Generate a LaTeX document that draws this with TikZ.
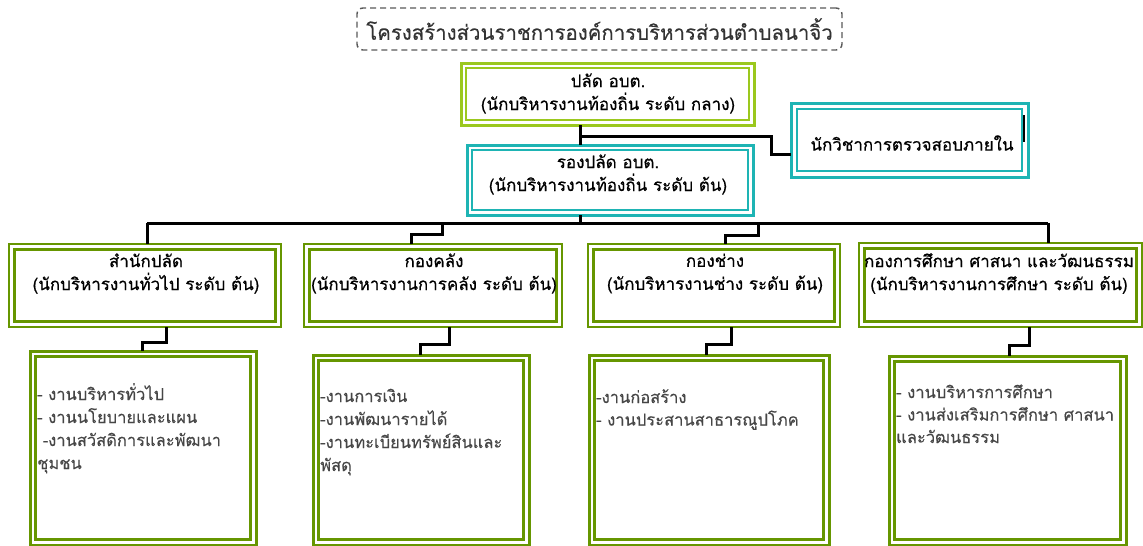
\documentclass[tikz,border=0pt]{standalone}
\usepackage{fontspec}
\newfontfamily\thai[Script=Thai,FakeBold=0.6]{Loma}
\newfontfamily\thaitl[Script=Thai,FakeBold=0.3]{Loma}
\usetikzlibrary{calc}
\definecolor{limeg}{RGB}{155,200,30}
\definecolor{tealc}{RGB}{30,180,180}
\definecolor{oliveg}{RGB}{102,150,0}
\definecolor{txtgray}{RGB}{70,70,70}
\newcommand\dbox[9]{%
  \node[draw=#6, line width=#7pt, minimum width={#4-#2}, minimum height={#5-#3},
        inner sep=0pt, outer sep=0pt] (#1) at ({(#2+#4)/2},{(#3+#5)/2}) {};
  \draw[#6, line width=#8pt] ($(#1.north west)+(#9,#9)$) rectangle ($(#1.south east)-(#9,#9)$);
}
\begin{document}
\begin{tikzpicture}[x=1pt,y=-1pt,
  conn/.style={line width=3pt, black},
  boxtxt/.style={align=center, inner sep=0pt, font=\thai\fontsize{17}{23}\selectfont, text=black},
  lowtxt/.style={anchor=base west, inner sep=0pt, font=\thaitl\fontsize{16.5}{23}\selectfont, text=txtgray},
  titlebox/.style={draw=black!65, dashed, dash pattern=on 6pt off 4pt, line width=1.4pt, rounded corners=6pt,
     minimum width=485pt, minimum height=42pt, inner sep=0pt, font=\thaitl\fontsize{20.4}{23}\selectfont, text=black!80}]
\useasboundingbox (0,0) rectangle (1143,546);

% title
\node[titlebox] (title) at (599.5,29) {โครงสร้างส่วนราชการองค์การบริหารส่วนตำบลนาจิ้ว};

% upper boxes
\dbox{tb}{461}{63}{754}{125}{limeg}{3}{2}{5}
\node[boxtxt] (tbt) at (608,93.5) {ปลัด อบต.\\(นักบริหารงานท้องถิ่น ระดับ กลาง)};
\dbox{sb}{467}{145}{753}{215}{tealc}{3}{2}{5}
\node[boxtxt] (sbt) at (608,174.5) {รองปลัด อบต.\\(นักบริหารงานท้องถิ่น ระดับ ต้น)};
\dbox{aud}{791}{103}{1028}{177}{tealc}{3}{2}{6}
\node[boxtxt] (audt) at (912,143) {นักวิชาการตรวจสอบภายใน};
\draw[line width=2pt, black] ($(aud.east)+(-4,-25)$) -- ++(0,27);

% department boxes
\dbox{b1}{9}{244}{281}{327}{oliveg}{2}{3}{5.5}
\dbox{b2}{304}{244}{562}{327}{oliveg}{2}{3}{5.5}
\dbox{b3}{588}{244}{840}{327}{oliveg}{2}{3}{5.5}
\dbox{b4}{859}{243}{1142}{327}{oliveg}{2}{3}{5.5}
\node[boxtxt] (b1t) at (146,273.5) {สำนักปลัด\\(นักบริหารงานทั่วไป ระดับ ต้น)};
\node[boxtxt] (b2t) at (434,273.5) {กองคลัง\\(นักบริหารงานการคลัง ระดับ ต้น)};
\node[boxtxt] (b3t) at (715,273.5) {กองช่าง\\(นักบริหารงานช่าง ระดับ ต้น)};
\node[boxtxt] (b4t) at (999,273.5) {กองการศึกษา ศาสนา และวัฒนธรรม\\(นักบริหารงานการศึกษา ระดับ ต้น)};

% lower boxes
\dbox{c1}{30}{351}{256}{545}{oliveg}{3}{3}{5.5}
\dbox{c2}{313}{355}{529}{545}{oliveg}{3}{3}{5.5}
\dbox{c3}{589}{355}{829}{545}{oliveg}{3}{3}{5.5}
\dbox{c4}{889}{356}{1126}{545}{oliveg}{3}{3}{5.5}

\foreach \t [count=\i] in {- งานบริหารทั่วไป, - งานนโยบายและแผน, \ -งานสวัสดิการและพัฒนา, ชุมชน}
  \node[lowtxt] (c1t\i) at (37,{400+23*(\i-1)}) {\t};
\foreach \t [count=\i] in {-งานการเงิน, -งานพัฒนารายได้, -งานทะเบียนทรัพย์สินและ, พัสดุ}
  \node[lowtxt] (c2t\i) at (320,{402+23*(\i-1)}) {\t};
\foreach \t [count=\i] in {-งานก่อสร้าง, - งานประสานสาธารณูปโภค}
  \node[lowtxt] (c3t\i) at (596,{403+22.5*(\i-1)}) {\t};
\foreach \t [count=\i] in {- งานบริหารการศึกษา, - งานส่งเสริมการศึกษา ศาสนา, และวัฒนธรรม}
  \node[lowtxt] (c4t\i) at (896,{398+22.5*(\i-1)}) {\t};

% connectors
\coordinate (sp) at (580,136);
\coordinate (aj) at (771,154);
\draw[conn] (tb.south -| sp) -- (sb.north -| sp);
\draw[conn] (sp) -| (aj) -- (aj -| aud.west);

\coordinate (barL) at (147,223);
\coordinate (barR) at (1048,223);
\draw[conn] (sb.south -| sp) -- (sp |- barL);
\draw[conn] (barL) -- (barR);
\draw[conn] (barL) -- (barL |- b1.north);
\draw[conn] (barR) -- (barR |- b4.north);
\coordinate (k2) at (442,223); \coordinate (s2) at (411,234);
\draw[conn] (k2) |- (s2) -- (s2 |- b2.north);
\coordinate (k3) at (758,223); \coordinate (s3) at (725,235);
\draw[conn] (k3) |- (s3) -- (s3 |- b3.north);

\coordinate (u1) at (166,342); \coordinate (v1) at (142,342);
\draw[conn] (b1.south -| u1) -- (u1) -- (v1) -- (v1 |- c1.north);
\coordinate (u2) at (449,344); \coordinate (v2) at (420,344);
\draw[conn] (b2.south -| u2) -- (u2) -- (v2) -- (v2 |- c2.north);
\coordinate (u3) at (731,344); \coordinate (v3) at (706,344);
\draw[conn] (b3.south -| u3) -- (u3) -- (v3) -- (v3 |- c3.north);
\coordinate (u4) at (1029,345); \coordinate (v4) at (1009,345);
\draw[conn] (b4.south -| u4) -- (u4) -- (v4) -- (v4 |- c4.north);
\end{tikzpicture}
\end{document}
